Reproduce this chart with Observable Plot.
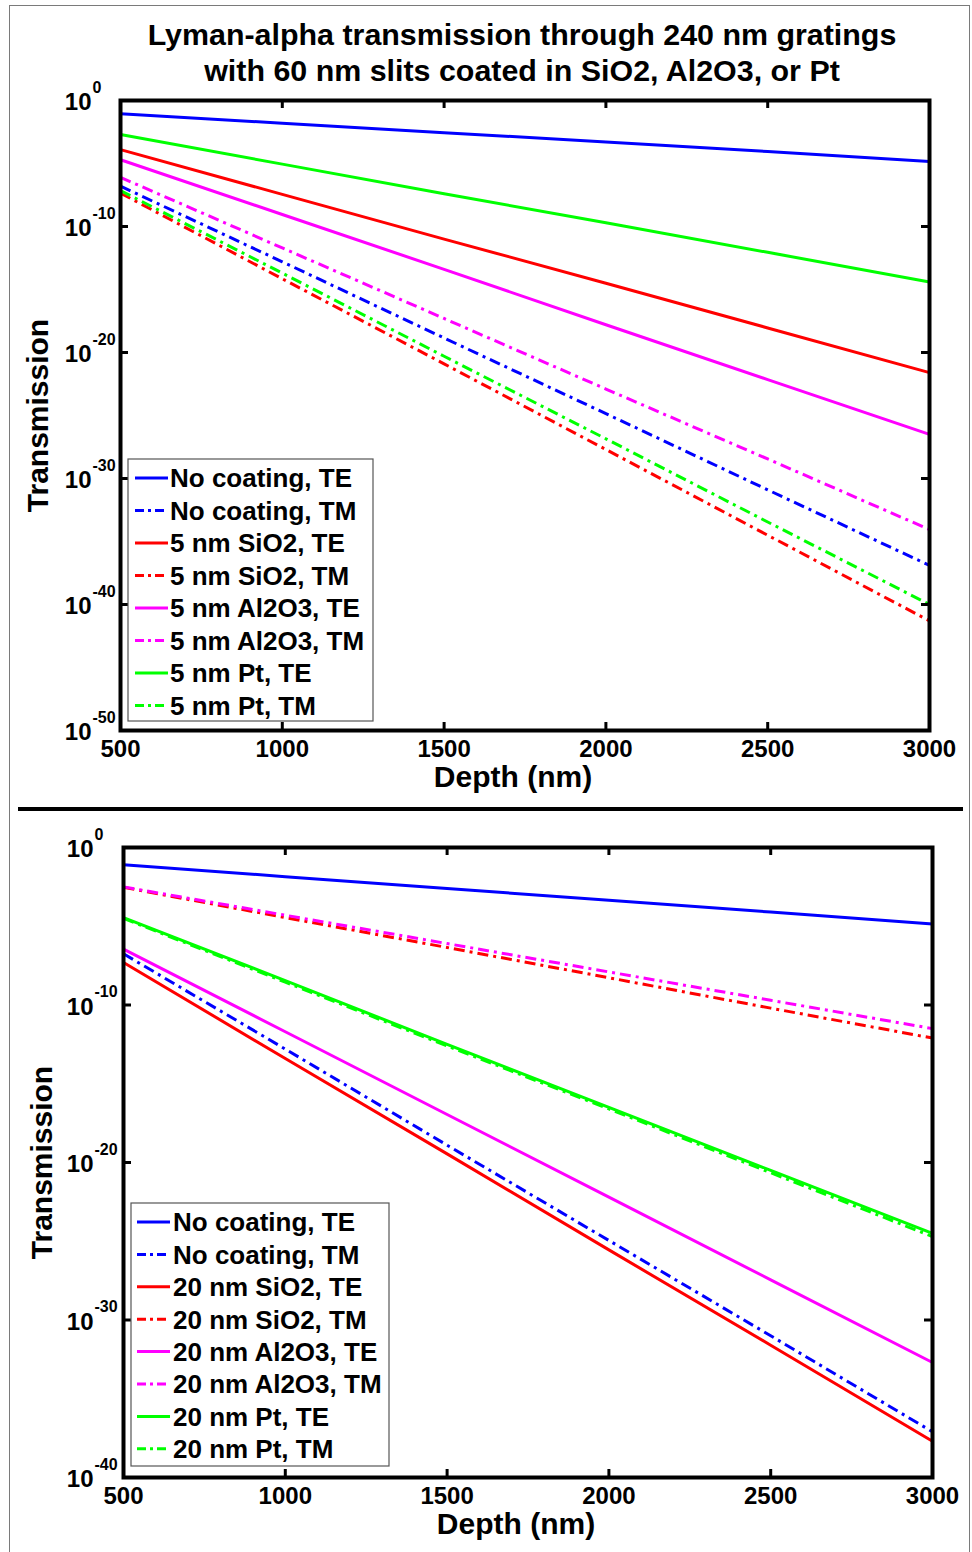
<!DOCTYPE html>
<html>
<head>
<meta charset="utf-8">
<script src="https://cdn.jsdelivr.net/npm/d3@7"></script>
<script src="https://cdn.jsdelivr.net/npm/@observablehq/plot@0.6"></script>
<style>
  html, body { margin: 0; padding: 0; background: #fff; }
  body { font-family: "Liberation Sans", Arial, sans-serif; font-weight: bold; }
  #page { position: relative; width: 972px; height: 1552px; overflow: hidden; background: #fff; }
  .abs { position: absolute; }
  #frame { left: 9px; top: 5px; width: 961px; height: 1600px; border: 1.5px solid #7a7a7a; box-sizing: border-box; }
  #title { left: 22px; top: 16px; width: 1000px; text-align: center; font-size: 30.4px; line-height: 36px; color: #000; }
  #sep { left: 18px; top: 807px; width: 945px; height: 4px; background: #000; }
</style>
</head>
<body>
<div id="page">
  <div id="frame" class="abs"></div>
  <div id="topChart" class="abs" style="left:0;top:60px;"></div>
  <div id="sep" class="abs"></div>
  <div id="bottomChart" class="abs" style="left:0;top:810px;"></div>
  <div id="title" class="abs">Lyman-alpha transmission through 240 nm gratings<br>with 60 nm slits coated in SiO2, Al2O3, or Pt</div>
</div>
<script>
// ---------------- data ----------------
const depthNm = [500, 1000, 1500, 2000, 2500, 3000];
const xTickValues = [500, 1000, 1500, 2000, 2500, 3000];
const topYTickExponents = [0, -10, -20, -30, -40, -50];
const bottomYTickExponents = [0, -10, -20, -30, -40];

const seriesColors = ["#0000ff", "#0000ff", "#ff0000", "#ff0000", "#ff00ff", "#ff00ff", "#00ff00", "#00ff00"];
const seriesModes = ["TE", "TM", "TE", "TM", "TE", "TM", "TE", "TM"];

const topLabels = ["No coating, TE", "No coating, TM", "5 nm SiO2, TE", "5 nm SiO2, TM",
                   "5 nm Al2O3, TE", "5 nm Al2O3, TM", "5 nm Pt, TE", "5 nm Pt, TM"];
const bottomLabels = ["No coating, TE", "No coating, TM", "20 nm SiO2, TE", "20 nm SiO2, TM",
                      "20 nm Al2O3, TE", "20 nm Al2O3, TM", "20 nm Pt, TE", "20 nm Pt, TM"];

// log10(transmission) at depthNm, 5 nm coatings (top panel)
const top_noCoating_TE = [-1.05, -1.8, -2.55, -3.3, -4.05, -4.85];
const top_noCoating_TM = [-6.8, -12.8, -18.85, -24.85, -30.9, -36.9];
const top_SiO2_TE      = [-3.9, -7.45, -11.0, -14.5, -18.05, -21.6];
const top_SiO2_TM      = [-7.35, -14.15, -20.9, -27.7, -34.5, -41.3];
const top_Al2O3_TE     = [-4.7, -9.05, -13.4, -17.8, -22.15, -26.5];
const top_Al2O3_TM     = [-6.1, -11.7, -17.3, -22.9, -28.45, -34.05];
const top_Pt_TE        = [-2.7, -5.05, -7.4, -9.7, -12.05, -14.4];
const top_Pt_TM        = [-7.15, -13.7, -20.3, -26.85, -33.45, -40.0];

// log10(transmission) at depthNm, 20 nm coatings (bottom panel)
const bot_noCoating_TE = [-1.1, -1.85, -2.6, -3.35, -4.1, -4.86];
const bot_noCoating_TM = [-6.75, -12.8, -18.9, -24.95, -31.0, -37.1];
const bot_SiO2_TE      = [-7.3, -13.4, -19.45, -25.55, -31.6, -37.7];
const bot_SiO2_TM      = [-2.53, -4.45, -6.35, -8.27, -10.2, -12.1];
const bot_Al2O3_TE     = [-6.45, -11.7, -16.95, -22.2, -27.45, -32.7];
const bot_Al2O3_TM     = [-2.5, -4.3, -6.1, -7.9, -9.7, -11.5];
const bot_Pt_TE        = [-4.45, -8.45, -12.5, -16.5, -20.5, -24.5];
const bot_Pt_TM        = [-4.5, -8.55, -12.6, -16.6, -20.65, -24.7];

const topValues = [top_noCoating_TE, top_noCoating_TM, top_SiO2_TE, top_SiO2_TM,
                   top_Al2O3_TE, top_Al2O3_TM, top_Pt_TE, top_Pt_TM];
const bottomValues = [bot_noCoating_TE, bot_noCoating_TM, bot_SiO2_TE, bot_SiO2_TM,
                      bot_Al2O3_TE, bot_Al2O3_TM, bot_Pt_TE, bot_Pt_TM];

// ---------------- drawing ----------------
const FONT = "Liberation Sans, Arial, sans-serif";
const DASH = "11,5,3,5";

function buildChart(cfg) {
  const {labels, values, yExps, height, mt, mb, ml, mr, yTitleDx} = cfg;
  const width = 972;
  const fh = height - mt - mb;
  const fw = width - ml - mr;
  const yMin = Math.min(...yExps);
  const lineMarks = labels.map((lab, i) => {
    const rows = depthNm.map((d, j) => ({depth: d, T: Math.pow(10, values[i][j])}));
    return Plot.line(rows, {
      x: "depth", y: "T", stroke: seriesColors[i], strokeWidth: 3,
      strokeDasharray: seriesModes[i] === "TM" ? DASH : null,
      strokeLinecap: "butt", strokeLinejoin: "round"
    });
  });
  const yTickVals = yExps.map(e => Math.pow(10, e));
  return Plot.plot({
    width, height,
    marginTop: mt, marginBottom: mb, marginLeft: ml, marginRight: mr,
    style: {background: "transparent", fontFamily: FONT, overflow: "visible", color: "#000"},
    x: {domain: [500, 3000], axis: null},
    y: {type: "log", domain: [Math.pow(10, yMin), 1], axis: null},
    marks: [
      ...lineMarks,
      // inward tick marks
      Plot.ruleX(xTickValues, {x: d => d, insetTop: fh - 8, stroke: "#000", strokeWidth: 3}),
      Plot.ruleX(xTickValues, {x: d => d, insetBottom: fh - 8, stroke: "#000", strokeWidth: 3}),
      Plot.ruleY(yTickVals, {y: d => d, insetRight: fw - 8, stroke: "#000", strokeWidth: 3}),
      Plot.ruleY(yTickVals, {y: d => d, insetLeft: fw - 8, stroke: "#000", strokeWidth: 3}),
      Plot.frame({stroke: "#000", strokeWidth: 4}),
      // x tick labels
      Plot.text(xTickValues, {x: d => d, frameAnchor: "bottom", lineAnchor: "middle", dy: 19,
        text: d => String(d), fontSize: 24, fontWeight: "bold", fill: "#000"}),
      // y tick labels 10^e
      Plot.text(yTickVals, {y: d => d, frameAnchor: "left", dx: cfg.baseDx, dy: 2, text: () => "10",
        textAnchor: "end", lineAnchor: "middle", fontSize: 24, fontWeight: "bold", fill: "#000"}),
      Plot.text(yExps, {y: e => Math.pow(10, e), frameAnchor: "left", dx: cfg.baseDx + 1, dy: -13,
        text: e => String(e), textAnchor: "start", lineAnchor: "middle", fontSize: 16, fontWeight: "bold", fill: "#000"}),
      // axis titles
      Plot.text(["Depth (nm)"], {frameAnchor: "bottom", lineAnchor: "middle", textAnchor: "middle",
        dx: -12, dy: 47, text: d => d, fontSize: 30, fontWeight: "bold", fill: "#000"}),
      Plot.text(["Transmission"], {frameAnchor: "left", lineAnchor: "middle", textAnchor: "middle",
        dx: yTitleDx, text: d => d, rotate: -90, fontSize: 30, fontWeight: "bold", fill: "#000"})
    ]
  });
}

function buildLegend(cfg) {
  const {labels, left, top, w, h, rowY0, rowStep, lineX0, lineX1, textX} = cfg;
  const svg = d3.create("svg")
    .attr("width", w + 2).attr("height", h + 2)
    .style("position", "absolute").style("left", (left - 1) + "px").style("top", (top - 1) + "px")
    .style("overflow", "visible");
  svg.append("rect").attr("x", 1).attr("y", 1).attr("width", w).attr("height", h)
    .attr("fill", "#fff").attr("stroke", "#555").attr("stroke-width", 1.2);
  labels.forEach((lab, i) => {
    const y = rowY0 - top + 1 + i * rowStep;
    svg.append("line")
      .attr("x1", lineX0 - left + 1).attr("x2", lineX1 - left + 1)
      .attr("y1", y).attr("y2", y)
      .attr("stroke", seriesColors[i]).attr("stroke-width", 3)
      .attr("stroke-dasharray", seriesModes[i] === "TM" ? "9,4,3,4" : null);
    svg.append("text")
      .attr("x", textX - left + 1).attr("y", y).attr("dy", "0.36em")
      .attr("font-family", FONT).attr("font-weight", "bold").attr("font-size", 26)
      .attr("fill", "#000").text(lab);
  });
  return svg.node();
}

const topChart = buildChart({
  labels: topLabels, values: topValues, yExps: topYTickExponents,
  height: 745, mt: 40, mb: 75, ml: 120, mr: 43, baseDx: -29, yTitleDx: -82
});
document.getElementById("topChart").appendChild(topChart);

const bottomChart = buildChart({
  labels: bottomLabels, values: bottomValues, yExps: bottomYTickExponents,
  height: 740, mt: 37, mb: 73, ml: 123, mr: 40, baseDx: -30, yTitleDx: -81
});
document.getElementById("bottomChart").appendChild(bottomChart);

const page = document.getElementById("page");
page.appendChild(buildLegend({
  labels: topLabels, left: 128, top: 459, w: 245, h: 262,
  rowY0: 478, rowStep: 32.5, lineX0: 135, lineX1: 168, textX: 170
}));
page.appendChild(buildLegend({
  labels: bottomLabels, left: 131, top: 1203, w: 258, h: 263,
  rowY0: 1222, rowStep: 32.4, lineX0: 137, lineX1: 170, textX: 173
}));
</script>
</body>
</html>
